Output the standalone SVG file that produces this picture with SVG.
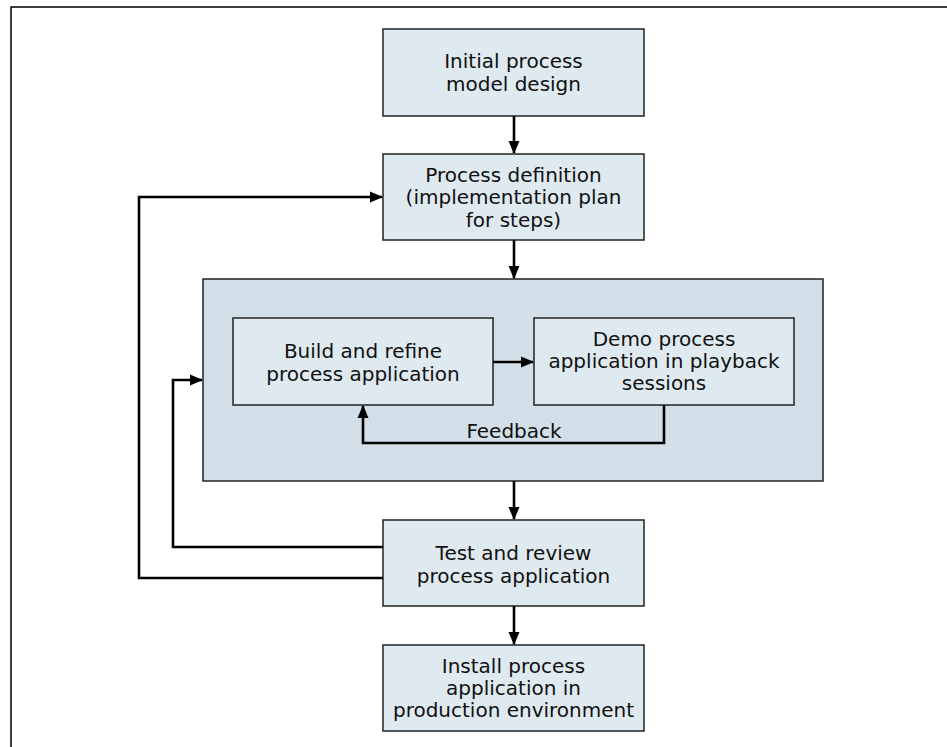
<svg xmlns="http://www.w3.org/2000/svg" width="947" height="747" viewBox="0 0 947 747">
<style>
.box{fill:#dfe9f0;stroke:#222;stroke-width:1.5}
.grp{fill:#d2dfe8;stroke:#222;stroke-width:1.5}
.t{font-family:"DejaVu Sans",Verdana,sans-serif;font-size:20px;fill:#111;text-anchor:middle}
.c{fill:none;stroke:#000;stroke-width:2.6;stroke-linejoin:miter}
.frame{stroke:#000;stroke-width:1.5;fill:none}
</style>
<defs>
<marker id="ah" markerUnits="userSpaceOnUse" markerWidth="13" markerHeight="13" viewBox="0 0 13 13" refX="12" refY="6.5" orient="auto">
<path d="M0,1 L13,6.5 L0,12 Z" fill="#000"/>
</marker>
</defs>
<rect width="947" height="747" fill="#fff"/>
<path class="frame" d="M11,747 V7 H947"/>
<g id="n1"><rect class="box" x="383" y="29" width="261" height="87"/>
<text class="t" x="513.5" y="68">Initial process</text><text class="t" x="513.5" y="91">model design</text></g>
<g id="n2"><rect class="box" x="383" y="154" width="261" height="86"/>
<text class="t" x="513.5" y="182">Process definition</text><text class="t" x="513.5" y="204">(implementation plan</text><text class="t" x="513.5" y="227">for steps)</text></g>
<g id="grp"><rect class="grp" x="203" y="279" width="620" height="202"/></g>
<g id="n3"><rect class="box" x="233" y="318" width="260" height="87"/>
<text class="t" x="363" y="358">Build and refine</text><text class="t" x="363" y="381">process application</text></g>
<g id="n4"><rect class="box" x="534" y="318" width="260" height="87"/>
<text class="t" x="664" y="346">Demo process</text><text class="t" x="664" y="368">application in playback</text><text class="t" x="664" y="390">sessions</text></g>
<g id="n5"><rect class="box" x="383" y="520" width="261" height="86"/>
<text class="t" x="513.5" y="560">Test and review</text><text class="t" x="513.5" y="583">process application</text></g>
<g id="n6"><rect class="box" x="383" y="645" width="261" height="86"/>
<text class="t" x="513.5" y="673">Install process</text><text class="t" x="513.5" y="695">application in</text><text class="t" x="513.5" y="717">production environment</text></g>
<g id="connectors">
<path class="c" d="M514,116 V153" marker-end="url(#ah)"/>
<path class="c" d="M514,240 V278" marker-end="url(#ah)"/>
<path class="c" d="M514,481 V519" marker-end="url(#ah)"/>
<path class="c" d="M514,606 V644" marker-end="url(#ah)"/>
<path class="c" d="M493,362 H533" marker-end="url(#ah)"/>
<path class="c" d="M664,405 V443 H363 V406" marker-end="url(#ah)"/>
<path class="c" d="M383,578 H139 V197 H382" marker-end="url(#ah)"/>
<path class="c" d="M383,547 H173 V380 H202" marker-end="url(#ah)"/>
<text class="t" x="514" y="438">Feedback</text>
</g>
</svg>
